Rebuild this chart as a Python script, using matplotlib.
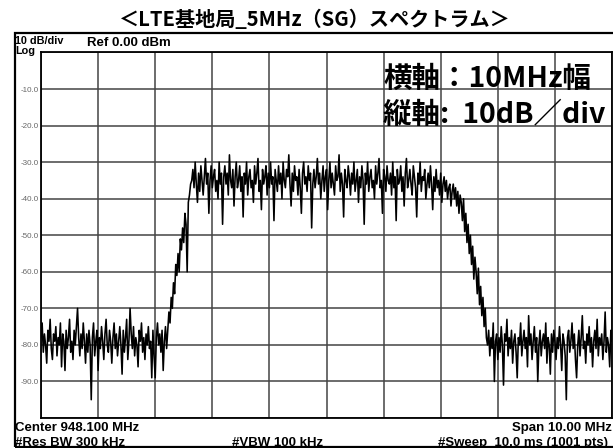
import numpy as np
import matplotlib
matplotlib.use("Agg")
import matplotlib.pyplot as plt
from matplotlib.patches import Rectangle

# spectrum trace (0.02 MHz per point, 501 pts)
floor_left = [-78, -74, -82, -77, -80, -85, -76, -79, -73, -81,
              -84, -77, -79, -75, -83, -78, -80, -74, -86, -77,
              -79, -87, -76, -81, -78, -73, -82, -79, -84, -76,
              -80, -75, -70, -78, -83, -77, -81, -74, -79, -85,
              -77, -82, -76, -80, -95, -78, -74, -83, -79, -76,
              -87, -78, -81, -75, -79, -84, -77, -73, -80, -82,
              -76, -79, -85, -78, -74, -81, -77, -83, -79, -75,
              -80, -88, -76, -82, -78, -73, -84, -79, -70, -77,
              -81, -75, -83, -78, -80, -86, -76, -79, -74, -82,
              -78, -84, -77, -80, -75, -81, -79, -89, -76, -83,
              -89, -78, -74, -80, -77, -82, -76, -87, -79, -75,
              -81]
rise = [-76, -71, -74, -67, -70, -63, -66, -58, -61, -55,
        -60, -51, -54, -48, -52, -44, -47, -60, -41, -39, -36]
plateau = [-35, -32, -37, -30, -36, -41, -33, -38, -31, -35,
           -39, -34, -29, -36, -33, -44, -35, -31, -37, -34,
           -32, -38, -35, -40, -30, -36, -33, -47, -34, -31,
           -36, -33, -39, -28, -35, -37, -32, -42, -34, -30,
           -37, -35, -31, -38, -34, -45, -33, -36, -30, -39,
           -34, -32, -37, -35, -41, -31, -36, -33, -29, -38,
           -35, -43, -32, -36, -34, -31, -39, -33, -37, -30,
           -36, -34, -46, -32, -35, -38, -31, -36, -33, -40,
           -30, -35, -37, -32, -34, -28, -36, -42, -33, -38,
           -31, -35, -34, -39, -32, -37, -44, -33, -30, -36,
           -34, -38, -31, -35, -33, -48, -36, -32, -37, -34,
           -29, -36, -33, -40, -35, -31, -38, -34, -32, -43,
           -35, -30, -37, -33, -36, -39, -31, -35, -34, -28,
           -38, -33, -36, -45, -32, -35, -37, -31, -34, -39,
           -33, -36, -30, -38, -35, -32, -41, -34, -37, -31,
           -35, -47, -33, -36, -30, -38, -34, -32, -37, -35,
           -40, -31, -36, -33, -29, -37, -35, -44, -32, -34,
           -38, -31, -35, -36, -33, -39, -30, -37, -34, -46,
           -32, -36, -35, -31, -38, -34, -42, -33, -29, -37,
           -35, -32, -36, -39, -31, -34, -37, -45, -33, -36,
           -30, -38, -34, -35, -32, -40, -36, -33, -37, -31,
           -36, -43, -34, -38, -32, -37, -35, -39, -33, -41,
           -36, -34, -38, -35, -40, -37, -36, -42, -38]
fall = [-36, -40, -37, -42, -38, -44, -39, -41, -46, -40,
        -49, -44, -52, -47, -55, -50, -58, -53, -62, -56,
        -60, -66, -59, -69, -64, -72, -67, -75, -70, -78]
floor_right = [-80, -76, -83, -78, -81, -74, -90, -79, -77, -84,
               -78, -82, -75, -80, -91, -77, -79, -73, -83, -78,
               -81, -76, -85, -79, -77, -82, -89, -78, -80, -74,
               -83, -79, -76, -81, -78, -86, -72, -80, -77, -84,
               -79, -75, -82, -78, -90, -80, -76, -83, -79, -77,
               -81, -74, -85, -78, -80, -88, -77, -82, -76, -79,
               -84, -78, -81, -75, -80, -87, -77, -79, -83, -95,
               -78, -76, -82, -79, -74, -81, -77, -84, -89, -80,
               -76, -83, -78, -72, -81, -79, -85, -77, -80, -75,
               -82, -78, -86, -79, -76, -81, -73, -83, -78, -80,
               -77, -84, -79, -71, -82, -78, -80, -86, -76, -79]

center = 948.1
span = 10.0
level = floor_left + rise + plateau + fall + floor_right
freq = np.linspace(center - span / 2, center + span / 2, len(level))

ylabels = ["", "-10.0", "-20.0", "-30.0", "-40.0", "-50.0", "-60.0", "-70.0", "-80.0", "-90.0", ""]

jp = ["Noto Sans CJK JP", "DejaVu Sans"]
W, H = 613, 448
fig = plt.figure(figsize=(W / 100, H / 100), dpi=100)
fig.patch.set_facecolor("white")

ax = fig.add_axes([41 / W, 1 - 418 / H, 571 / W, 365.5 / H])
ax.plot(freq, level, color="black", lw=1.15)
ax.set_xlim(center - span / 2, center + span / 2)
ax.set_ylim(-100, 0)
ax.set_xticks(np.arange(center - span / 2, center + span / 2 + 0.01, 1.0))
ax.set_xticklabels([])
ax.set_yticks(np.arange(0, -101, -10))
ax.set_yticklabels(ylabels, fontsize=5.8, color="#666666", family="Liberation Sans")
ax.tick_params(length=0, pad=1.5)
ax.grid(True, color="#444444", lw=1.1)
for s in ax.spines.values():
    s.set_linewidth(1.3)
    s.set_color("black")

# outer instrument frame
fig.patches.append(Rectangle((15 / W, 1 - 446.5 / H), 700 / W, (446.5 - 33.5) / H,
                             fill=False, lw=1.6, ec="black", zorder=5,
                             transform=fig.transFigure, figure=fig))

def px(x, y):
    return x / W, 1 - y / H

hdr = dict(family="Liberation Sans", weight="bold", fontsize=7.8, color="black")
big = dict(family="Liberation Sans", weight="bold", fontsize=9.5, color="black")
fig.text(*px(15, 41.5), "10 dB/div", va="center", **hdr)
fig.text(*px(87, 42.5), "Ref 0.00 dBm", va="center", **big)
fig.text(*px(15, 51.5), "Log", va="center", **hdr)
fig.text(*px(15, 427.5), "Center 948.100 MHz", va="center", **big)
fig.text(*px(612, 427.5), "Span 10.00 MHz", va="center", ha="right", **big)
fig.text(*px(15, 443), "#Res BW 300 kHz", va="center", **big)
fig.text(*px(232, 443), "#VBW 100 kHz", va="center", **big)
fig.text(*px(438, 443), "#Sweep  10.0 ms (1001 pts)", va="center", **big)

fig.text(*px(315, 19.5), "＜LTE基地局_5MHz（SG）スペクトラム＞", ha="center", va="center",
         family=jp, weight="bold", fontsize=14.5)

fig.text(*px(383, 79), "横軸：10MHz幅", ha="left", va="center",
         family=jp, weight="bold", fontsize=20.5)
fig.text(*px(383, 115), "縦軸:  10dB／div", ha="left", va="center",
         family=jp, weight="bold", fontsize=20.5)

fig.savefig("out.png", dpi=100)
